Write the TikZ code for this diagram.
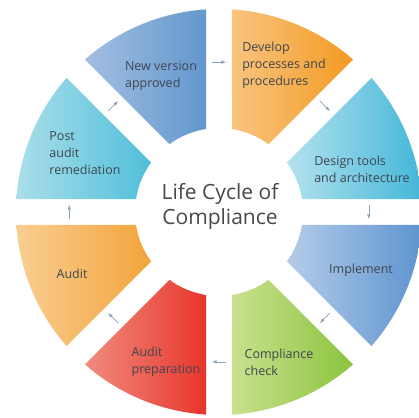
\documentclass[tikz,border=0pt]{standalone}
\usepackage{fontspec}
\setmainfont{Open Sans}
\usepackage{tikz}
\definecolor{nvL}{HTML}{A3BFE2}\definecolor{nvR}{HTML}{6397CD}
\definecolor{dvL}{HTML}{F9C47F}\definecolor{dvR}{HTML}{F39A22}
\definecolor{dsL}{HTML}{B4E2EE}\definecolor{dsR}{HTML}{44B7D9}
\definecolor{imL}{HTML}{B5CCE8}\definecolor{imR}{HTML}{5D94CF}
\definecolor{ckL}{HTML}{C9E18E}\definecolor{ckR}{HTML}{8BC33E}
\definecolor{prL}{HTML}{F08C7E}\definecolor{prR}{HTML}{E8352B}
\definecolor{auL}{HTML}{F9CE92}\definecolor{auR}{HTML}{F3A43A}
\definecolor{paL}{HTML}{ABDEEA}\definecolor{paR}{HTML}{50BFDA}
\definecolor{labeltext}{HTML}{3E4550}
\definecolor{titletext}{HTML}{484848}
\definecolor{flowblue}{HTML}{8CA2BA}

\begin{document}
\begin{tikzpicture}[x=1pt,y=1pt,
  lbl/.style={align=left,inner sep=0pt,text=labeltext,
    font=\fontsize{12.5}{17}\selectfont},
  flow/.style={-latex,line width=.6pt,draw=flowblue}]
  \useasboundingbox (-219,-205) rectangle (200,212);
   \def\R{203} \def\r{84} \def\g{13}
   \pgfmathsetmacro\dR{asin(\g/\R)}
   \pgfmathsetmacro\dr{asin(\g/\r)}
  % eight ring pieces, each one 45 degrees wide
  \foreach \a/\lc/\rc in {90/nvL/nvR,45/dvL/dvR,0/dsL/dsR,-45/imL/imR,%
      -90/ckL/ckR,-135/prL/prR,180/auL/auR,135/paL/paR}{%
    \shade[left color=\lc,right color=\rc]
      ({\a+\dr}:\r) -- ({\a+\dR}:\R)
      arc[start angle=\a+\dR,end angle=\a+45-\dR,radius=\R]
      -- ({\a+45-\dr}:\r)
      arc[start angle=\a+45-\dr,end angle=\a+\dr,radius=\r] -- cycle;
    }
  \node[align=center,text=titletext,font=\fontsize{21}{25}\selectfont]
    (title) at (1,6) {Life Cycle of\\Compliance};
  \node[lbl] (newver)  at (-58,136)  {New version\\approved};
  \node[lbl] (develop) at (65,147)   {Develop\\processes and\\procedures};
  \node[lbl] (design)  at (143,43)   {Design tools\\and architecture};
  \node[lbl] (implem)  at (142,-58)  {Implement};
  \node[lbl] (check)   at (60,-150)  {Compliance\\check};
  \node[lbl] (prep)    at (-53,-150) {Audit\\preparation};
  \node[lbl] (audit)   at (-147,-62) {Audit};
  \node[lbl] (remed)   at (-134,59)  {Post\\audit\\remediation};
  % small arrows in the gaps, running clockwise
  \foreach \t [count=\i] in {135,90,45,0,-45,-90,-135,180}{%
    \coordinate (s\i) at ({\t+2.7}:150);
    \coordinate (e\i) at ({\t-2.7}:150);
    \draw[flow] (s\i) -- (e\i);
    }
\end{tikzpicture}
\end{document}
